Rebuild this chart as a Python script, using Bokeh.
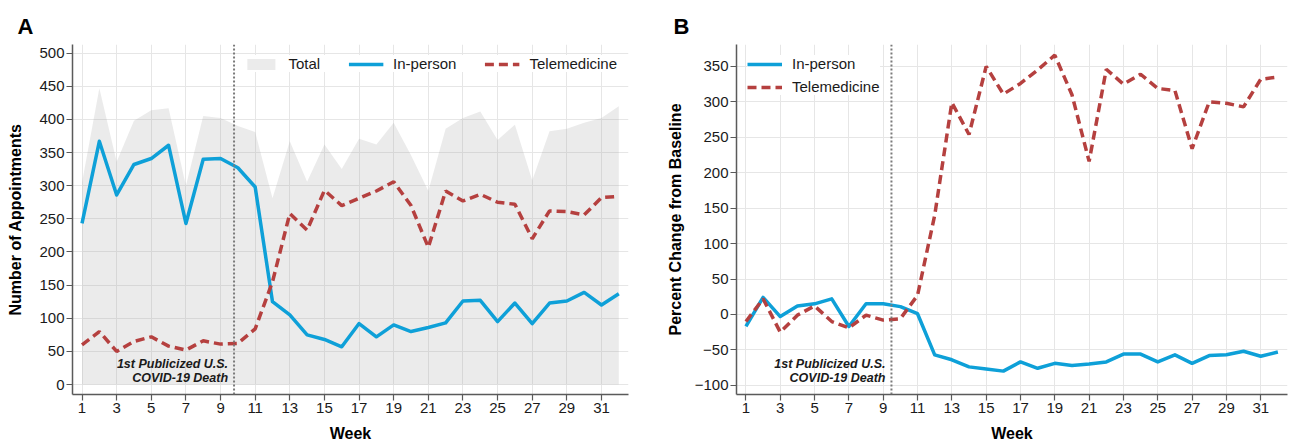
from bokeh.plotting import figure
from bokeh.layouts import row
from bokeh.models import FixedTicker, Span, Legend, LegendItem, Range1d
from bokeh.embed import file_html
from bokeh.resources import INLINE
from bokeh.core.properties import value

# ---------------- data ----------------
weeks = list(range(1, 33))
week_ticks = list(range(1, 32, 2))

total_a = [305, 447, 336, 398, 414, 417, 300, 405, 402, 390, 381, 281, 367, 306, 362, 325,
           371, 362, 395, 346, 292, 386, 402, 412, 369, 392, 308, 382, 386, 395, 402, 420]
in_person_a = [243, 367, 286, 332, 341, 361, 243, 340, 341, 327, 298, 125, 105, 75, 68, 57,
               92, 72, 90, 80, 86, 93, 126, 127, 95, 123, 92, 123, 126, 139, 120, 137]
tele_a = [60, 80, 50, 65, 72, 58, 52, 66, 61, 62, 84, 155, 258, 233, 293, 270,
          281, 292, 306, 270, 207, 292, 277, 287, 275, 272, 220, 262, 261, 256, 282, 284]

in_person_b = [-17, 24, -3, 12, 15, 22, -17, 15, 15, 11, 1, -57, -64, -74, -77, -80,
               -67, -76, -69, -72, -70, -67, -56, -56, -67, -57, -69, -58, -57, -52, -59, -53]
tele_b = [-10, 22, -25, -1, 12, -10, -19, -1, -8, -6, 27, 140, 299, 254, 350, 311,
          326, 345, 366, 310, 216, 346, 325, 339, 319, 316, 234, 300, 298, 293, 332, 335]

yticks_a = list(range(0, 501, 50))
yticks_b = list(range(-100, 351, 50))

event_week_a = 9.78
event_week_b = 9.48
event_text = ["1st Publicized U.S.", "COVID-19 Death"]
event_y_a = [31.5, 10.5]
event_y_b = [-70, -90]

# ---------------- style ----------------
FONT = "Liberation Sans"
BLUE = "#0EA0D8"
RED = "#B5403F"
AXIS = "#5a5a5a"
TXT = "#1a1a1a"


def make_fig(width, border_left, border_right, yr, ylabel, yticks, letter, title_offset, ylab_standoff):
    p = figure(width=width, height=444, output_backend="svg", toolbar_location=None,
               x_range=Range1d(0.45, 32.56), y_range=Range1d(*yr),
               min_border_left=border_left, min_border_right=border_right,
               min_border_top=44, min_border_bottom=0,
               background_fill_color="white", border_fill_color="white")
    p.outline_line_color = None
    p.xaxis.ticker = FixedTicker(ticks=week_ticks)
    p.yaxis.ticker = FixedTicker(ticks=yticks)
    for ax in p.axis:
        ax.axis_line_color = AXIS
        ax.axis_line_width = 1.5
        ax.major_tick_line_color = AXIS
        ax.major_tick_line_width = 1.2
        ax.major_tick_out = 6
        ax.major_tick_in = 0
        ax.minor_tick_out = 0
        ax.minor_tick_in = 0
        ax.major_label_text_font = FONT
        ax.major_label_text_font_size = "15px"
        ax.major_label_text_color = TXT
        ax.major_label_standoff = 2
        ax.axis_label_text_font = FONT
        ax.axis_label_text_font_size = "16px"
        ax.axis_label_text_font_style = "bold"
        ax.axis_label_text_color = "#000000"
    p.xaxis.axis_label = "Week"
    p.xaxis.axis_label_standoff = 9
    p.yaxis.axis_label = ylabel
    p.yaxis.axis_label_standoff = ylab_standoff
    p.grid.grid_line_color = "#E6E6E6"
    p.grid.grid_line_width = 1
    p.title.text = letter
    p.title.text_font = FONT
    p.title.text_font_size = "22px"
    p.title.text_font_style = "bold"
    p.title.text_color = "#000000"
    p.title.align = "left"
    p.title.vertical_align = "middle"
    p.title.offset = title_offset
    return p


# ---------------- panel A ----------------
pa = make_fig(650, 72, 22, (-15, 513), "Number of Appointments", yticks_a, "A", -55, 12)
r_tot = pa.varea(x=weeks, y1=[0] * len(weeks), y2=total_a, fill_color="#999999", fill_alpha=0.2)
r_ip = pa.line(weeks, in_person_a, line_color=BLUE, line_width=3.5, line_join="round")
r_te = pa.line(weeks, tele_a, line_color=RED, line_width=3.5, line_dash="9 5")
pa.add_layout(Span(location=event_week_a, dimension="height", line_color="#7a7a7a",
                   line_dash="2 2", line_width=2))
pa.text(x=[event_week_a] * 2, y=event_y_a, text=event_text, x_offset=-6,
        text_align="right", text_baseline="middle", text_font=value(FONT),
        text_font_style="bold italic", text_font_size="12.5px", text_color=TXT)
leg_a = Legend(items=[LegendItem(label="Total", renderers=[r_tot]),
                      LegendItem(label="In-person", renderers=[r_ip]),
                      LegendItem(label="Telemedicine", renderers=[r_te])],
               location="top_right", orientation="horizontal")
pa.add_layout(leg_a)

# ---------------- panel B ----------------
pb = make_fig(640, 86, 3, (-113, 381), "Percent Change from Baseline", yticks_b, "B", -63, 8)
r_ipb = pb.line(weeks, in_person_b, line_color=BLUE, line_width=3.5, line_join="round")
r_teb = pb.line(weeks, tele_b, line_color=RED, line_width=3.5, line_dash="9 5")
pb.add_layout(Span(location=event_week_b, dimension="height", line_color="#7a7a7a",
                   line_dash="2 2", line_width=2))
pb.text(x=[event_week_b] * 2, y=event_y_b, text=event_text, x_offset=-6,
        text_align="right", text_baseline="middle", text_font=value(FONT),
        text_font_style="bold italic", text_font_size="12.5px", text_color=TXT)
leg_b = Legend(items=[LegendItem(label="In-person", renderers=[r_ipb]),
                      LegendItem(label="Telemedicine", renderers=[r_teb])],
               location="top_left", orientation="vertical")
pb.add_layout(leg_b)

for lg in (leg_a, leg_b):
    lg.label_text_font = FONT
    lg.label_text_font_size = "15px"
    lg.label_text_color = TXT
    lg.glyph_width = 35
    lg.glyph_height = 14
    lg.label_standoff = 10
    lg.padding = 6
    lg.margin = 11
    lg.border_line_color = None
    lg.background_fill_color = "white"
    lg.background_fill_alpha = 1.0
leg_a.spacing = 28
leg_b.spacing = 6

layout = row(pa, pb, spacing=0)
open("out.html", "w").write(file_html(layout, INLINE))
